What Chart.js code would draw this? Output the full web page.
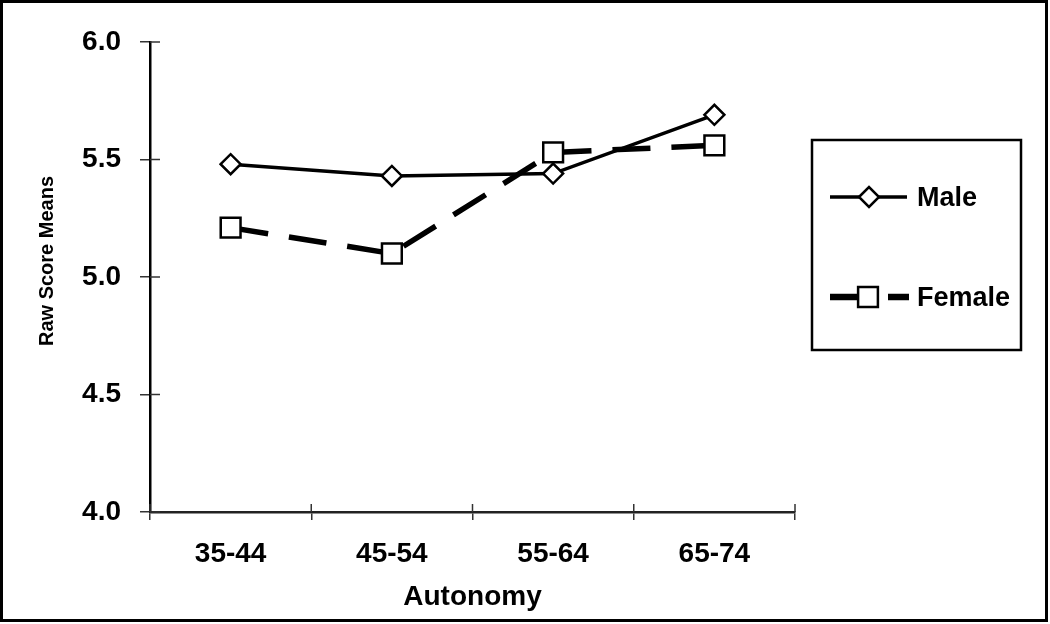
<!DOCTYPE html>
<html><head><meta charset="utf-8">
<script src="https://cdn.jsdelivr.net/npm/chart.js@4"></script>
<style>html,body{margin:0;padding:0;background:#fff;overflow:hidden}</style>
</head><body>
<canvas id="c" width="1050" height="624"></canvas>
<script>
const categories = ['35-44', '45-54', '55-64', '65-74'];
const maleValues = [5.48, 5.43, 5.44, 5.69];
const femaleValues = [5.21, 5.10, 5.53, 5.56];
const yTicks = [4.0, 4.5, 5.0, 5.5, 6.0];
const seriesNames = ['Male', 'Female'];
const xAxisTitle = 'Autonomy';
const yAxisTitle = 'Raw Score Means';

const FAM = "'Liberation Sans', Arial, Helvetica, sans-serif";
const bigFont = {family: FAM, size: 28, weight: 'bold'};

const extras = {
  id: 'extras',
  beforeDraw(chart) {
    const ctx = chart.ctx;
    ctx.save();
    ctx.fillStyle = '#fff';
    ctx.fillRect(0, 0, chart.width, chart.height);
    ctx.restore();
  },
  afterDraw(chart) {
    const ctx = chart.ctx;
    const xs = chart.scales.x, ys = chart.scales.y;
    ctx.save();
    // inner halves of tick marks
    ctx.strokeStyle = '#333';
    ctx.lineWidth = 1.5;
    ys.ticks.forEach(t => {
      const py = ys.getPixelForValue(t.value);
      ctx.beginPath(); ctx.moveTo(xs.left, py); ctx.lineTo(xs.left + 10, py); ctx.stroke();
    });
    const n = categories.length;
    for (let i = 0; i <= n; i++) {
      const px = xs.left + i * (xs.right - xs.left) / n;
      ctx.beginPath(); ctx.moveTo(px, ys.bottom - 8); ctx.lineTo(px, ys.bottom); ctx.stroke();
    }
    // y axis title
    ctx.fillStyle = '#000';
    ctx.font = "bold 20px " + FAM;
    ctx.textAlign = 'center';
    ctx.textBaseline = 'middle';
    ctx.translate(47, 261);
    ctx.rotate(-Math.PI / 2);
    ctx.fillText(yAxisTitle, 0, 0);
    ctx.restore();

    // outer frame
    ctx.save();
    ctx.strokeStyle = '#000';
    ctx.lineWidth = 3;
    ctx.strokeRect(1.5, 1.5, 1045, 619);
    // legend box
    ctx.lineWidth = 2.5;
    ctx.strokeRect(812, 140, 209, 210);
    const ds = chart.data.datasets;
    ctx.font = "bold 27px " + FAM;
    ctx.textAlign = 'left';
    ctx.textBaseline = 'middle';
    // Male
    ctx.strokeStyle = '#000';
    ctx.lineWidth = ds[0].borderWidth;
    ctx.beginPath(); ctx.moveTo(830, 197); ctx.lineTo(907, 197); ctx.stroke();
    ctx.fillStyle = '#fff';
    ctx.lineWidth = ds[0].pointBorderWidth;
    Chart.helpers.drawPoint(ctx, {pointStyle: ds[0].pointStyle, radius: ds[0].pointRadius, rotation: 0, borderWidth: ds[0].pointBorderWidth}, 869, 197);
    ctx.fillStyle = '#000';
    ctx.fillText(ds[0].label, 917, 199);
    // Female
    ctx.lineWidth = 6.5;
    ctx.beginPath(); ctx.moveTo(830, 297); ctx.lineTo(860, 297); ctx.stroke();
    ctx.beginPath(); ctx.moveTo(888, 297); ctx.lineTo(909, 297); ctx.stroke();
    ctx.fillStyle = '#fff';
    ctx.lineWidth = ds[1].pointBorderWidth;
    Chart.helpers.drawPoint(ctx, {pointStyle: ds[1].pointStyle, radius: ds[1].pointRadius, rotation: 0, borderWidth: ds[1].pointBorderWidth}, 868, 297);
    ctx.fillStyle = '#000';
    ctx.fillText(ds[1].label, 917, 299);
    ctx.restore();
  }
};

new Chart(document.getElementById('c'), {
  type: 'line',
  data: {
    labels: categories,
    datasets: [
      {
        label: seriesNames[0], data: maleValues,
        borderColor: '#000', borderWidth: 3.5, tension: 0, fill: false,
        pointStyle: 'rectRot', pointRadius: 10, pointHoverRadius: 10,
        pointBackgroundColor: '#fff', pointBorderColor: '#000', pointBorderWidth: 2.5
      },
      {
        label: seriesNames[1], data: femaleValues,
        borderColor: '#000', borderWidth: 5.5, borderDash: [38, 21], tension: 0, fill: false,
        pointStyle: 'rect', pointRadius: 14, pointHoverRadius: 14,
        pointBackgroundColor: '#fff', pointBorderColor: '#000', pointBorderWidth: 2.5
      }
    ]
  },
  options: {
    responsive: false,
    devicePixelRatio: 1,
    animation: false,
    events: [],
    layout: {padding: {left: 0, top: 42, right: 255, bottom: 6}},
    plugins: {legend: {display: false}, tooltip: {enabled: false}, title: {display: false}},
    scales: {
      x: {
        type: 'category', offset: true,
        grid: {offset: true, drawOnChartArea: false, drawTicks: true, tickLength: 8, color: '#333', lineWidth: 1.5},
        border: {display: true, color: '#222', width: 2.5},
        ticks: {color: '#000', font: bigFont, padding: 17, maxRotation: 0, autoSkip: false},
        title: {display: true, text: xAxisTitle, color: '#000', font: bigFont, padding: {top: 0, bottom: 4}},
        afterFit: s => { s.height = 106; }
      },
      y: {
        min: 4, max: 6,
        afterBuildTicks: s => { s.ticks = yTicks.map(v => ({value: v})); },
        grid: {drawOnChartArea: false, drawTicks: true, tickLength: 10, color: '#333', lineWidth: 1.5},
        border: {display: true, color: '#000', width: 2.5},
        ticks: {color: '#000', font: bigFont, padding: 19, callback: v => Number(v).toFixed(1)},
        afterFit: s => { s.width = 150; }
      }
    }
  },
  plugins: [extras]
});
</script>
</body></html>
